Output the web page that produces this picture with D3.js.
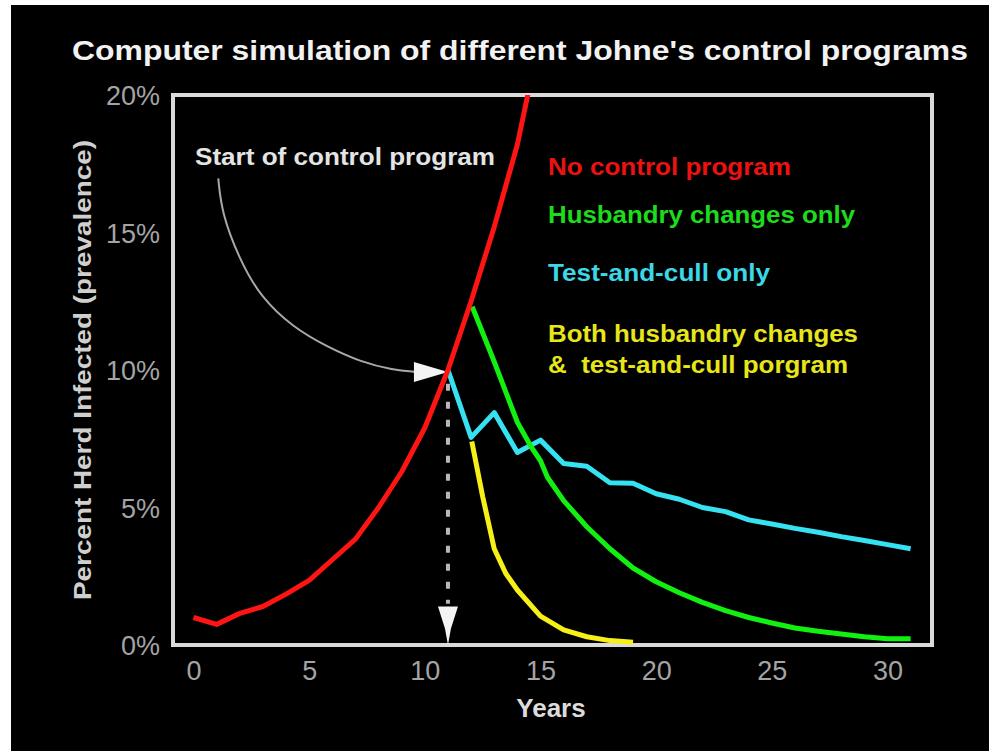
<!DOCTYPE html>
<html><head><meta charset="utf-8">
<script src="https://cdn.jsdelivr.net/npm/d3@7"></script>
<style>html,body{margin:0;padding:0;background:#fff;}svg{display:block}</style>
</head><body>
<script>
// ---- data ----
const title = "Computer simulation of different Johne's control programs";
const yearTicks = [0, 5, 10, 15, 20, 25, 30];
const pctTicks = [0, 5, 10, 15, 20];
const noControl = [[0,1.0],[1,0.75],[2,1.15],[3,1.4],[4,1.85],[5,2.35],[6,3.1],[7,3.85],[8,5.0],[9,6.3],[10,7.9],[11,10.0],[12,12.5],[13,15.2],[14,18.2],[14.6,20.6]];
const husbandryOnly = [[12.05,12.3],[13,10.3],[14,8.1],[14.6,7.2],[15,6.7],[15.3,6.1],[16,5.25],[17,4.3],[18,3.5],[19,2.8],[20,2.3],[21,1.9],[22,1.55],[23,1.25],[24,1.0],[25,0.8],[26,0.62],[27,0.5],[28,0.4],[29,0.3],[30,0.23],[31,0.23]];
const testCullOnly = [[11,10.0],[12,7.55],[13,8.45],[14,7.0],[15,7.45],[16,6.6],[17,6.5],[18,5.9],[19,5.88],[20,5.5],[21,5.3],[22,5.0],[23,4.85],[24,4.55],[25,4.4],[26,4.24],[27,4.1],[28,3.94],[29,3.8],[30,3.65],[31,3.5]];
const bothPrograms = [[12.03,7.4],[12.5,5.4],[13,3.5],[13.5,2.6],[14,2.0],[15,1.05],[16,0.55],[17,0.3],[18,0.16],[19,0.1]];
const startArrow = [[1.07,16.97],[1.07,16.97],[1.22,15.7],[2.0,14.0],[2.9,12.65],[4.3,11.55],[5.76,10.85],[7.2,10.3],[8.63,10.0],[9.6,9.93],[9.6,9.93]];
const startYear = 11, startPct = 9.93;
const legendItems = [
  {lines:["No control program"], color:"#ec1212"},
  {lines:["Husbandry changes only"], color:"#1cdc1c"},
  {lines:["Test-and-cull only"], color:"#3cd8e8"},
  {lines:["Both husbandry changes","&  test-and-cull porgram"], color:"#e6e61a"}
];

// ---- layout ----
const W = 989, H = 751;
const frame = {x0:173, x1:932, y0:95, y1:645};
const x = d3.scaleLinear().domain([0,30]).range([193.5,887.5]);
const y = d3.scaleLinear().domain([0,20]).range([645,95]);

const svg = d3.select("body").append("svg").attr("width",W).attr("height",H)
  .style("font-family","'Liberation Sans', Arial, sans-serif");
svg.append("rect").attr("width",W).attr("height",H).attr("fill","#ffffff");
svg.append("rect").attr("x",11).attr("y",5).attr("width",W-11).attr("height",H-5).attr("fill","#000");

const defs = svg.append("defs");
defs.append("clipPath").attr("id","plotclip").append("rect")
  .attr("x",frame.x0).attr("y",frame.y0).attr("width",frame.x1-frame.x0).attr("height",frame.y1-frame.y0);

// title
svg.append("text").attr("x",72).attr("y",60).attr("fill","#f2f2f2")
  .attr("font-size",28).attr("font-weight","bold")
  .attr("textLength",896).attr("lengthAdjust","spacingAndGlyphs").text(title);

// axes
const yAxis = svg.append("g").attr("transform",`translate(${160},0)`)
  .call(d3.axisLeft(y).tickValues(pctTicks).tickFormat(d=>d+"%").tickSize(0).tickPadding(0));
const xAxis = svg.append("g").attr("transform",`translate(0,${657})`)
  .call(d3.axisBottom(x).tickValues(yearTicks).tickSize(0).tickPadding(0));
[yAxis,xAxis].forEach(a=>{
  a.select(".domain").remove();
  a.selectAll("text").attr("fill","#a4a4a4").attr("font-size",27)
   .attr("font-family","'Liberation Sans', Arial, sans-serif");
});
yAxis.selectAll("text").attr("dy","0.36em");
xAxis.selectAll("text").attr("dy","0.85em");

// axis titles
svg.append("text").attr("x",551).attr("y",717).attr("text-anchor","middle")
  .attr("fill","#dcdcdc").attr("font-size",26).attr("font-weight","bold").text("Years");
svg.append("text").attr("transform","translate(82,370) rotate(-90)").attr("dy","0.36em")
  .attr("text-anchor","middle").attr("fill","#cfcfcf").attr("font-size",24).attr("font-weight","bold")
  .attr("textLength",460).attr("lengthAdjust","spacingAndGlyphs")
  .text("Percent Herd Infected (prevalence)");

// plot frame
svg.append("rect").attr("x",frame.x0).attr("y",frame.y0)
  .attr("width",frame.x1-frame.x0).attr("height",frame.y1-frame.y0)
  .attr("fill","none").attr("stroke","#dadada").attr("stroke-width",4);

// annotation: start of control program
svg.append("text").attr("x",195).attr("y",165).attr("fill","#e4e4e4")
  .attr("font-size",24).attr("font-weight","bold")
  .attr("textLength",300).attr("lengthAdjust","spacingAndGlyphs").text("Start of control program");
svg.append("path").datum(startArrow)
  .attr("d",d3.line().x(d=>x(d[0])).y(d=>y(d[1])).curve(d3.curveBasis))
  .attr("fill","none").attr("stroke","#a8a8a8").attr("stroke-width",2);
const ax = x(startYear), ay = y(startPct);
svg.append("path")
  .attr("d",`M${ax},${ay} L${ax-34},${ay-10} L${ax-34},${ay+10} Z`)
  .attr("fill","#f4f4f4");

// vertical dashed arrow
svg.append("line").attr("x1",ax).attr("x2",ax).attr("y1",y(9.5)).attr("y2",y(1.5))
  .attr("stroke","#b8b8b8").attr("stroke-width",4).attr("stroke-dasharray","7,11");
svg.append("path")
  .attr("d",`M${ax-10},${y(1.4)} L${ax+10},${y(1.4)} L${ax+3},${y(0.6)} L${ax},${y(0)} L${ax-3},${y(0.6)} Z`)
  .attr("fill","#f4f4f4");

// series
const line = d3.line().x(d=>x(d[0])).y(d=>y(d[1]));
const series = [
  {data:testCullOnly, color:"#36e2f2"},
  {data:bothPrograms, color:"#f6f018"},
  {data:husbandryOnly, color:"#12f012"},
  {data:noControl, color:"#ff1414"}
];
svg.append("g").attr("clip-path","url(#plotclip)")
  .selectAll("path").data(series).join("path")
  .attr("d",d=>line(d.data)).attr("fill","none").attr("stroke",d=>d.color)
  .attr("stroke-width",5).attr("stroke-linejoin","round").attr("stroke-linecap","butt");

// legend
const legendBaselines = [[175],[223],[281],[342,373]];
const legendWidths = [[243],[307],[222],[310,300]];
legendItems.forEach((it,i)=>{
  it.lines.forEach((t,j)=>{
    svg.append("text").attr("x",548).attr("y",legendBaselines[i][j])
      .attr("fill",it.color).attr("font-size",23).attr("font-weight","bold")
      .attr("textLength",legendWidths[i][j]).attr("lengthAdjust","spacingAndGlyphs")
      .attr("xml:space","preserve").style("white-space","pre").text(t);
  });
});
</script>
</body></html>
